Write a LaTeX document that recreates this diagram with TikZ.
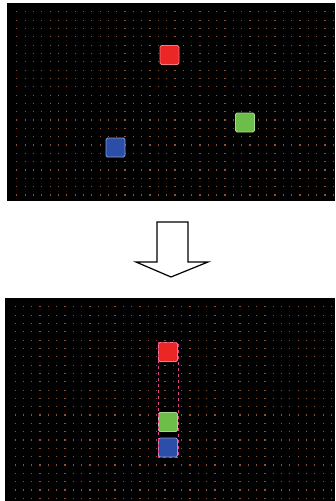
\documentclass[tikz,border=0pt]{standalone}
\usetikzlibrary{positioning}
\definecolor{dotc}{RGB}{150,80,45}
\definecolor{redsq}{RGB}{236,38,36}
\definecolor{greensq}{RGB}{108,190,72}
\definecolor{bluesq}{RGB}{44,78,168}
\definecolor{selc}{RGB}{215,70,140}

\begin{document}
\begin{tikzpicture}[
    x=1pt, y=-1pt,
    panel/.style={fill=black},
    griddot/.style={fill=dotc},
    sq/.style={rectangle, rounded corners=1.5pt, minimum size=19pt, inner sep=0pt, line width=0.8pt},
    redbox/.style={sq, fill=redsq, draw=redsq!60!white},
    greenbox/.style={sq, fill=greensq, draw=greensq!60!white},
    bluebox/.style={sq, fill=bluesq, draw=bluesq!55!white},
    sel/.style={draw=selc, dashed, line width=0.6pt},
    bigarrow/.style={draw=black, fill=white, line width=1.2pt, line join=miter}
]
\useasboundingbox (0,0) rectangle (335,501);

% top panel
\fill[panel] (7,3) rectangle (335,201);
\begin{scope}
  \clip (7,3) rectangle (335,201);
  \foreach \i in {0,...,38}
    \foreach \j in {0,...,23}
      \fill[griddot] (16.2+8.33*\i,11.2+8.33*\j) rectangle ++(1.1,1.1);
\end{scope}
\node[redbox]   (redA)   at (169.5,55) {};
\node[greenbox] (greenA) at (245,122.5) {};
\node[bluebox]  (blueA)  at (115.5,147.5) {};

% arrow
\draw[bigarrow] (157,222) -- (188,222) -- (188,262) -- (208,262) -- (171,277)
    -- (136,262) -- (157,262) -- cycle;

% bottom panel
\fill[panel] (5,298) rectangle (335,501);
\begin{scope}
  \clip (5,298) rectangle (335,501);
  \foreach \i in {0,...,39}
    \foreach \j in {0,...,24}
      \fill[griddot] (14.5+8.33*\i,306.2+8.33*\j) rectangle ++(1.1,1.1);
\end{scope}
\node[redbox]   (redB)   at (168,352) {};
\node[greenbox] (greenB) at (168,422) {};
\node[bluebox]  (blueB)  at (168,447.5) {};
\draw[sel] (redB.north west) rectangle (blueB.south east);
\end{tikzpicture}
\end{document}
